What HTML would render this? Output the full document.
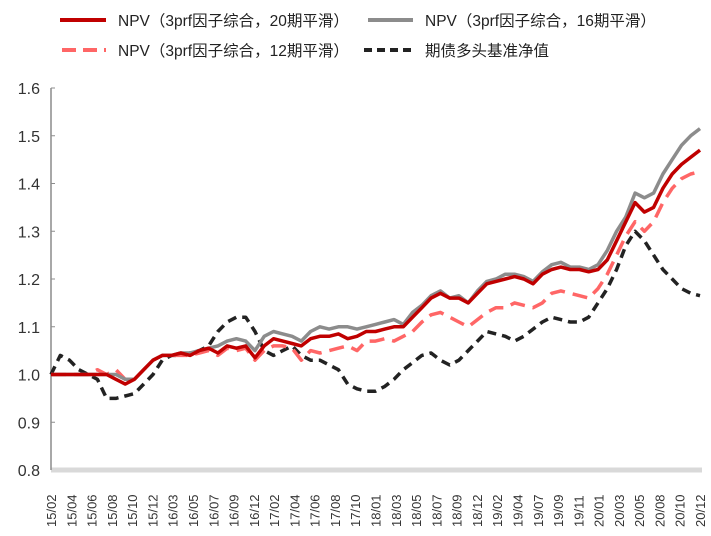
<!DOCTYPE html>
<html><head><meta charset="utf-8"><style>
body{margin:0;background:#fff;}
svg text{font-family:"Liberation Sans","Noto Sans CJK SC",sans-serif;}
</style></head><body>
<svg id="chart" width="711" height="531" xmlns="http://www.w3.org/2000/svg">
<g id="legend">
 <g><line x1="60" y1="20" x2="106" y2="20" stroke="#c00000" stroke-width="4"/><text x="118" y="26" font-size="15.5" fill="#222">NPV（3prf因子综合，20期平滑）</text></g>
 <g><line x1="368" y1="20" x2="413" y2="20" stroke="#8c8c8c" stroke-width="4"/><text x="425" y="26" font-size="15.5" fill="#222">NPV（3prf因子综合，16期平滑）</text></g>
 <g><line x1="62" y1="50" x2="106" y2="50" stroke="#ff6666" stroke-width="4" stroke-dasharray="14,7"/><text x="118" y="56" font-size="15.5" fill="#222">NPV（3prf因子综合，12期平滑）</text></g>
 <g><line x1="364" y1="50" x2="413" y2="50" stroke="#222" stroke-width="4" stroke-dasharray="8,5"/><text x="425" y="56" font-size="15.5" fill="#222">期债多头基准净值</text></g>
</g>
<g id="axes"></g>
<g id="series"></g>
</svg>
<script>
const xLabels=["15/02","15/04","15/06","15/08","15/10","15/12","16/03","16/05","16/07","16/09","16/12","17/02","17/04","17/06","17/08","17/10","18/01","18/03","18/05","18/07","18/09","18/12","19/02","19/04","19/07","19/09","19/11","20/01","20/03","20/05","20/08","20/10","20/12"];
const yTicks=[0.8,0.9,1.0,1.1,1.2,1.3,1.4,1.5,1.6];
const npv20=[1,1,1,1,1,1,1,0.99,0.98,0.99,1.01,1.03,1.04,1.04,1.045,1.04,1.05,1.055,1.045,1.06,1.055,1.06,1.035,1.06,1.075,1.07,1.065,1.06,1.075,1.08,1.08,1.085,1.075,1.08,1.09,1.09,1.095,1.10,1.10,1.12,1.14,1.16,1.17,1.16,1.16,1.15,1.17,1.19,1.195,1.20,1.205,1.20,1.19,1.21,1.22,1.225,1.22,1.22,1.215,1.22,1.24,1.28,1.32,1.36,1.34,1.35,1.39,1.42,1.44,1.455,1.47];
const npv16=[1,1,1,1,1,1,1,1,0.99,0.99,1.01,1.03,1.04,1.04,1.045,1.045,1.05,1.055,1.06,1.07,1.075,1.07,1.05,1.08,1.09,1.085,1.08,1.07,1.09,1.10,1.095,1.10,1.10,1.095,1.10,1.105,1.11,1.115,1.105,1.13,1.145,1.165,1.175,1.16,1.165,1.15,1.175,1.195,1.20,1.21,1.21,1.205,1.195,1.215,1.23,1.235,1.225,1.225,1.22,1.23,1.26,1.30,1.33,1.38,1.37,1.38,1.42,1.45,1.48,1.50,1.515];
const npv12=[1,1,1,1,1,1.01,1.0,1.01,0.99,0.99,1.01,1.03,1.04,1.04,1.04,1.04,1.045,1.05,1.04,1.055,1.05,1.055,1.03,1.05,1.06,1.06,1.055,1.03,1.05,1.045,1.05,1.055,1.06,1.05,1.07,1.07,1.075,1.07,1.08,1.09,1.11,1.125,1.13,1.12,1.11,1.10,1.115,1.13,1.14,1.14,1.15,1.145,1.14,1.15,1.17,1.175,1.17,1.165,1.16,1.18,1.21,1.25,1.29,1.32,1.30,1.32,1.36,1.39,1.41,1.42,1.425];
const bond=[1,1.04,1.03,1.01,1.0,0.99,0.95,0.95,0.955,0.96,0.98,1.0,1.03,1.04,1.04,1.045,1.05,1.06,1.09,1.11,1.12,1.12,1.09,1.05,1.04,1.05,1.06,1.04,1.03,1.03,1.02,1.01,0.98,0.97,0.965,0.965,0.975,0.99,1.01,1.025,1.04,1.045,1.03,1.02,1.03,1.05,1.07,1.09,1.085,1.08,1.07,1.08,1.095,1.11,1.12,1.115,1.11,1.11,1.12,1.15,1.18,1.22,1.27,1.30,1.28,1.25,1.22,1.20,1.18,1.17,1.165];
const NS="http://www.w3.org/2000/svg";
const X0=51,X1=700,Y0=470,Y1=88;
function yS(v){return Y0-(v-0.8)/0.8*(Y0-Y1);}
function xS(i,n){return X0+i*(X1-X0)/(n-1);}
function mk(tag,attrs,parent){const e=document.createElementNS(NS,tag);for(const k in attrs)e.setAttribute(k,attrs[k]);parent.appendChild(e);return e;}
const ax=document.getElementById('axes');
const xa=mk('line',{x1:X0,y1:Y0,x2:X1+2,y2:Y0,stroke:'#d9d9d9','stroke-width':5},ax);


const ya=mk('line',{x1:X0,y1:Y1,x2:X0,y2:Y0,stroke:'#8c8c8c','stroke-width':1.5},ax);


yTicks.forEach(v=>{
 const t=mk('text',{x:40,y:yS(v)+6,'font-size':16,'text-anchor':'end',fill:'#333'},ax);
 t.textContent=v.toFixed(1);
 
 
 if(v>0.8){const tk=mk('line',{x1:X0,y1:yS(v),x2:X0+4,y2:yS(v),stroke:'#8c8c8c','stroke-width':1},ax);
 
 }
});
xLabels.forEach((l,i)=>{
 const x=xS(i,xLabels.length)+5;
 const t=mk('text',{x:x,y:527,'font-size':13,fill:'#333',transform:`rotate(-90 ${x} 527)`},ax);
 t.textContent=l;
 
 
});
const sg=document.getElementById('series');
function line(data,stroke,dash,name){
 const d=data.map((v,i)=>(i?'L':'M')+xS(i,data.length).toFixed(1)+','+yS(v).toFixed(1)).join('');
 const p=mk('path',{d:d,fill:'none',stroke:stroke,'stroke-width':3.5,'stroke-linejoin':'round','stroke-dasharray':dash||'none'},sg);
 
 
}
line(bond,'#222','9,6','series-bond');
line(npv12,'#ff6666','15,8','series-npv12');
line(npv16,'#8c8c8c','','series-npv16');
line(npv20,'#c00000','','series-npv20');
</script>
</body></html>
